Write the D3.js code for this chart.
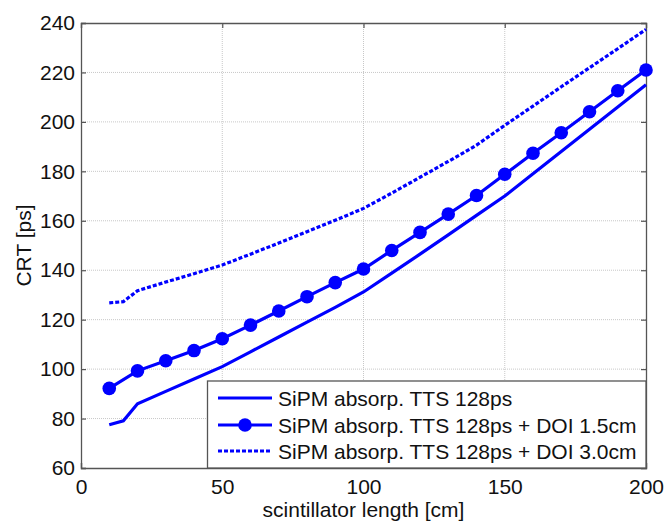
<!DOCTYPE html>
<html><head><meta charset="utf-8">
<script src="https://cdn.jsdelivr.net/npm/d3@7"></script>
<style>body{margin:0;background:#fff}svg{display:block}text{font-family:"Liberation Sans",Arial,sans-serif}</style>
</head><body>
<svg id="c" width="664" height="521"></svg>
<script>
// Data
const xTicks = [0, 50, 100, 150, 200];
const yTicks = [60, 80, 100, 120, 140, 160, 180, 200, 220, 240];
const lenPlain = [10, 15, 20, 30, 40, 50, 60, 70, 80, 90, 100, 110, 120, 130, 140, 150, 160, 170, 180, 190, 200];
const crtPlain = [77.5, 79.1, 86.0, 91.0, 96.0, 101.0, 107.0, 113.0, 119.0, 125.0, 131.2, 138.8, 146.5, 154.3, 162.2, 170.0, 179.0, 188.0, 197.0, 206.0, 215.0];
const lenDoi15 = [10, 20, 30, 40, 50, 60, 70, 80, 90, 100, 110, 120, 130, 140, 150, 160, 170, 180, 190, 200];
const crtDoi15 = [92.2, 99.3, 103.4, 107.5, 112.3, 117.8, 123.5, 129.3, 135.0, 140.5, 148.0, 155.3, 162.7, 170.2, 178.8, 187.3, 195.6, 204.1, 212.6, 221.0];
const lenDoi30 = [10, 15, 20, 30, 40, 50, 60, 70, 80, 90, 100, 110, 120, 130, 140, 150, 160, 170, 180, 190, 200];
const crtDoi30 = [126.8, 127.3, 131.7, 135.2, 138.6, 142.1, 146.5, 151.0, 155.6, 160.2, 165.0, 171.2, 177.6, 184.0, 190.6, 198.6, 206.4, 214.2, 221.9, 229.6, 237.4];
const legendLabels = ["SiPM absorp. TTS 128ps", "SiPM absorp. TTS 128ps + DOI 1.5cm", "SiPM absorp. TTS 128ps + DOI 3.0cm"];
const xTitle = "scintillator length [cm]";
const yTitle = "CRT [ps]";

const L = 81, R = 646, T = 23, B = 468;
const blue = "#0000ff", axisCol = "#555", gridCol = "#c8c8c8";
const svg = d3.select("#c");
const x = d3.scaleLinear().domain([0, 200]).range([L, R]);
const y = d3.scaleLinear().domain([60, 240]).range([B, T]);

// grid
const g = svg.append("g");
g.selectAll(".gx").data(xTicks.slice(1, -1)).join("line")
  .attr("x1", d => x(d)).attr("x2", d => x(d)).attr("y1", T).attr("y2", B)
  .attr("stroke", gridCol).attr("stroke-width", 1).attr("stroke-dasharray", "1,1");
g.selectAll(".gy").data(yTicks.slice(1, -1)).join("line")
  .attr("y1", d => y(d)).attr("y2", d => y(d)).attr("x1", L).attr("x2", R)
  .attr("stroke", gridCol).attr("stroke-width", 1).attr("stroke-dasharray", "1,1");

// axes
const fs = "21px";
const ax = svg.append("g").attr("transform", `translate(0,${B})`)
  .call(d3.axisBottom(x).tickValues(xTicks).tickSize(-5).tickPadding(11));
const ay = svg.append("g").attr("transform", `translate(${L},0)`)
  .call(d3.axisLeft(y).tickValues(yTicks).tickSize(-5).tickPadding(6));
const axT = svg.append("g").attr("transform", `translate(0,${T})`)
  .call(d3.axisTop(x).tickValues(xTicks).tickSize(-5).tickFormat(""));
const ayR = svg.append("g").attr("transform", `translate(${R},0)`)
  .call(d3.axisRight(y).tickValues(yTicks).tickSize(-5).tickFormat(""));
[ax, ay, axT, ayR].forEach(a => {
  a.select(".domain").attr("stroke", axisCol).attr("stroke-width", 1.3);
  a.selectAll(".tick line").attr("stroke", axisCol).attr("stroke-width", 1.2);
  a.selectAll(".tick text").attr("fill", "#111").style("font-size", fs).style("font-family", '"Liberation Sans",Arial,sans-serif');
});

// lines
const line = d3.line().x(d => x(d[0])).y(d => y(d[1]));
const p1 = d3.zip(lenPlain, crtPlain), p2 = d3.zip(lenDoi15, crtDoi15), p3 = d3.zip(lenDoi30, crtDoi30);
svg.append("path").attr("d", line(p1)).attr("fill", "none").attr("stroke", blue).attr("stroke-width", 3.2);
svg.append("path").attr("d", line(p2)).attr("fill", "none").attr("stroke", blue).attr("stroke-width", 3.2);
svg.append("path").attr("d", line(p3)).attr("fill", "none").attr("stroke", blue).attr("stroke-width", 3.2).attr("stroke-dasharray", "4,2");
svg.selectAll(".mk").data(p2).join("circle")
  .attr("cx", d => x(d[0])).attr("cy", d => y(d[1])).attr("r", 6.8).attr("fill", blue);

// legend
const lg = svg.append("g");
lg.append("rect").attr("x", 207.5).attr("y", 381).attr("width", R - 207.5).attr("height", B - 381)
  .attr("fill", "#fff").attr("stroke", axisCol).attr("stroke-width", 1.3);
const rowsY = [398, 425, 451];
legendLabels.forEach((t, i) => {
  const ly = rowsY[i];
  const ln = lg.append("line").attr("x1", 218).attr("x2", 272).attr("y1", ly).attr("y2", ly)
    .attr("stroke", blue).attr("stroke-width", 3.2);
  if (i === 2) ln.attr("stroke-dasharray", "4,2");
  if (i === 1) lg.append("circle").attr("cx", 245).attr("cy", ly).attr("r", 6.8).attr("fill", blue);
  lg.append("text").attr("x", 278).attr("y", ly + 7.5).attr("fill", "#111").style("font-size", fs).text(t);
});

// titles
svg.append("text").attr("x", (L + R) / 2).attr("y", 517).attr("text-anchor", "middle")
  .attr("fill", "#111").style("font-size", fs).text(xTitle);
svg.append("text").attr("transform", `translate(31,${(T + B) / 2}) rotate(-90)`).attr("text-anchor", "middle")
  .attr("fill", "#111").style("font-size", fs).text(yTitle);
</script>
</body></html>
